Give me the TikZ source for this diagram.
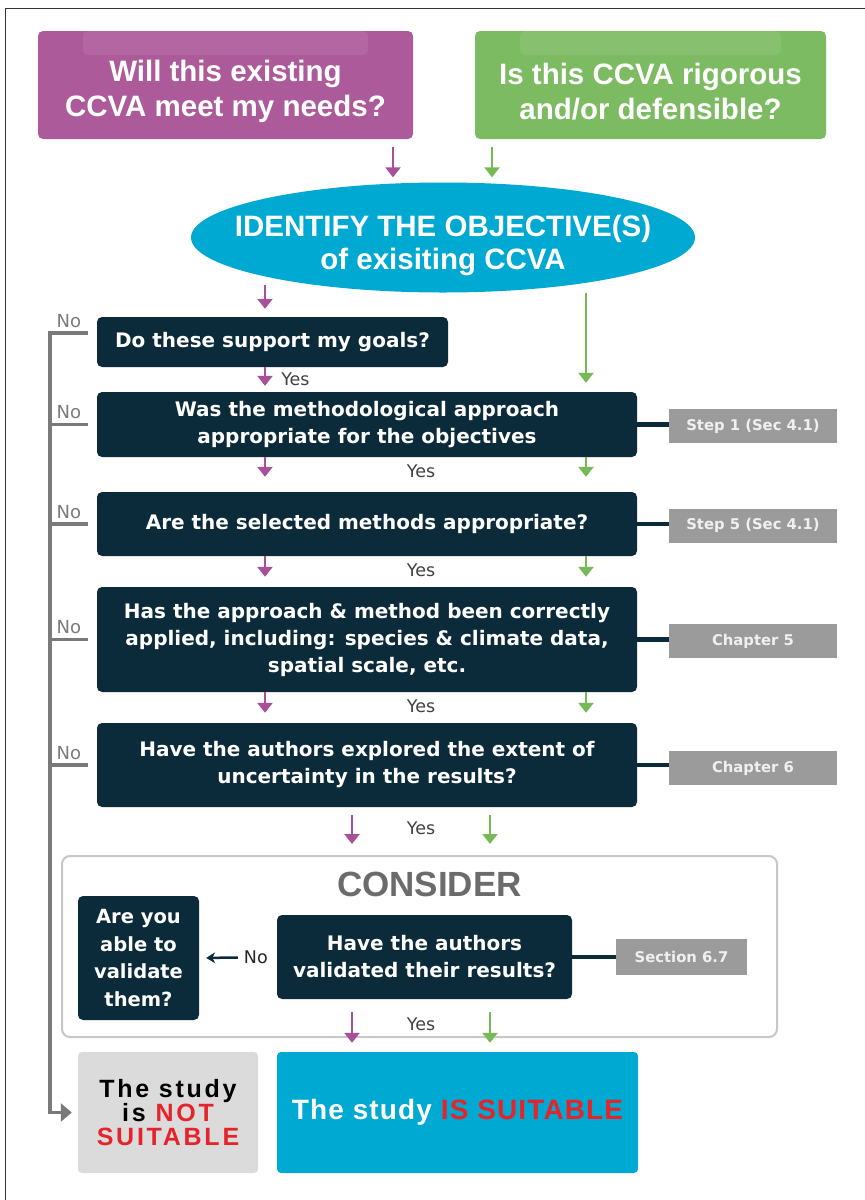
\documentclass[tikz,border=0pt]{standalone}
\usepackage{fontspec}
\setmainfont{Liberation Sans}
\newfontfamily\boxfont{DejaVu Sans}
\usetikzlibrary{arrows.meta,shapes.geometric}
\definecolor{qpurple}{HTML}{AD5A9B}
\definecolor{qgreen}{HTML}{7DBB63}
\definecolor{apurple}{HTML}{A8519A}
\definecolor{agreen}{HTML}{78B957}
\definecolor{ccva}{HTML}{00A9D1}
\definecolor{navy}{HTML}{0B2B3A}
\definecolor{refgrey}{HTML}{9B9B9B}
\definecolor{railgrey}{HTML}{7A7A7A}
\definecolor{notgrey}{HTML}{DBDBDB}
\definecolor{notred}{HTML}{E5232B}
\newcommand{\track}[1]{\addfontfeatures{LetterSpace=#1}}

\begin{document}
\begin{tikzpicture}[x=1pt,y=-1pt,
        question/.style={rounded corners=5pt, inner sep=0pt,
                path picture={\fill[white,opacity=.08] ([xshift=45pt]path picture bounding box.north west) rectangle ([xshift=-45pt,yshift=-24pt]path picture bounding box.north east);}},
        questiontxt/.style={text=white, align=center, inner sep=0pt, font=\fontsize{29.5}{35}\selectfont\bfseries},
        objective/.style={ellipse, fill=ccva, inner sep=0pt, minimum width=504pt, minimum height=110pt},
        darkbox/.style={fill=navy, rounded corners=5pt, text=white, align=center, inner sep=0pt,
                font=\boxfont\fontsize{20}{27}\selectfont\bfseries},
        refbox/.style={fill=refgrey, text=white!94!black, inner sep=0pt, minimum width=168pt,
                minimum height=34pt, font=\boxfont\fontsize{14.8}{17}\selectfont\bfseries},
        verdict/.style={rounded corners=4pt, align=center, inner sep=0pt, minimum height=121pt},
        parr/.style={apurple, line width=2.5pt, -{Triangle[width=15pt,length=10pt]}},
        garr/.style={agreen, line width=2.5pt, -{Triangle[width=15pt,length=10pt]}},
        rail/.style={railgrey, line width=3.5pt},
        nolbl/.style={text=railgrey, inner sep=4pt, font=\boxfont\fontsize{18}{20}\selectfont},
        yes/.style={text=black!75, inner sep=0pt, font=\boxfont\fontsize{17.5}{20}\selectfont},
        link/.style={navy, line width=4.5pt}]
        \tikzstyle{frame}=[black!80, line width=1.5pt]
        \useasboundingbox (0,0) rectangle (865,1200);
        \draw[frame] (865,8.5) -- (5.5,8.5) -- (5.5,1200);
        \coordinate (pt) at (393,0);
        \coordinate (gt) at (492,0);
        \coordinate (pl) at (265,0);
        \coordinate (gr) at (586,0);
        \coordinate (pl2) at (352,0);
        \coordinate (gr2) at (490,0);
        \coordinate (railx) at (50,0);
        \node[question, fill=qpurple, minimum width=375pt, minimum height=108pt] (needs) at (225.5,85) {};
        \node[questiontxt] (needstxt) at ([yshift=-6.5pt]needs.center) {Will this existing\\CCVA meet my needs?};
        \node[question, fill=qgreen, minimum width=351pt, minimum height=108pt] (rigour) at (650.5,85) {};
        \node[questiontxt] (rigourtxt) at ([yshift=-6.5pt]rigour.center) {Is this CCVA rigorous\\and/or defensible?};
        \node[objective] (ident) at (443,237.5) {};
        \node[questiontxt, font=\fontsize{29.5}{33}\selectfont\bfseries] (identtxt) at ([yshift=-7.5pt]ident.center) {IDENTIFY THE OBJECTIVE(S)\\of exisiting CCVA};
        \node[darkbox, minimum width=351pt, minimum height=50pt] (goals) at (272.5,342) {Do these support my goals?};
        \node[darkbox, minimum width=540pt, minimum height=65pt] (approach) at (367,424.5) {Was the methodological approach\\appropriate for the objectives};
        \node[darkbox, minimum width=540pt, minimum height=64pt] (methods) at (367,524) {Are the selected methods appropriate?};
        \node[darkbox, minimum width=540pt, minimum height=105pt] (applied) at (367,639.5) {Has the approach \& method been correctly\\applied, including: species \& climate data,\\spatial scale, etc.};
        \node[darkbox, minimum width=540pt, minimum height=84pt] (uncert) at (367,765) {Have the authors explored the extent of\\uncertainty in the results?};
        \node[refbox] (sec1) at (753,426) {Step 1 (Sec 4.1)};
        \node[refbox] (sec5) at (753,525.5) {Step 5 (Sec 4.1)};
        \node[refbox] (ch5) at (753,641) {Chapter 5};
        \node[refbox] (ch6) at (753,768) {Chapter 6};
        \node[draw=black!22, line width=2pt, rounded corners=8pt, minimum width=715pt, minimum height=181pt] (consider) at (419.5,946.5) {};
        \node[text=black!58, font=\fontsize{35}{38}\selectfont\bfseries] (considertitle) at (429.5,884) {CONSIDER};
        \node[darkbox, minimum width=121pt, minimum height=124pt, font=\boxfont\fontsize{19.5}{27.5}\selectfont\bfseries] (able) at (138.5,958) {Are you\\able to\\validate\\them?};
        \node[darkbox, minimum width=295pt, minimum height=84pt] (valid) at (424.5,957) {Have the authors\\validated their results?};
        \node[refbox, minimum width=131pt, minimum height=36pt] (sec67) at (681.5,957) {Section 6.7};
        \node[verdict, fill=notgrey, minimum width=180pt, text=black, font=\track{11}\fontsize{25}{24}\selectfont\bfseries] (notsuit) at (168,1112.5) {The study\\is \textcolor{notred}{NOT}\\\textcolor{notred}{SUITABLE}};
        \node[verdict, fill=ccva, minimum width=361pt, text=white, font=\track{4}\fontsize{28}{30}\selectfont\bfseries] (suit) at (457.5,1112.5) {The study \textcolor{notred}{IS SUITABLE}};
        \draw[parr, shorten <=8pt, shorten >=5pt] (needs.south -| pt) -- (ident.north -| pt);
        \draw[garr, shorten <=8pt, shorten >=5pt] (rigour.south -| gt) -- (ident.north -| gt);
        \draw[parr, shorten <=9pt, shorten >=8pt] (ident.192 -| pl) -- (goals.north -| pl);
        \draw[garr, shorten <=11pt, shorten >=9pt] (ident.343 -| gr) -- (approach.north -| gr);
        \draw[parr, shorten >=6pt] (goals.south -| pl) -- node[yes, right, xshift=15pt] (yes1) {Yes} (approach.north -| pl);
        \foreach \a/\b/\s in {approach/methods/15, methods/applied/10, applied/uncert/10} {
                \draw[parr, shorten >=\s pt] (\a.south -| pl) -- (\b.north -| pl);
                \draw[garr, shorten >=\s pt] (\a.south -| gr) -- (\b.north -| gr);
        }
        \node[yes] (yes2) at (421,471) {Yes};
        \node[yes] (yes3) at (421,570) {Yes};
        \node[yes] (yes4) at (421,706) {Yes};
        \draw[parr, shorten <=8pt, shorten >=11pt] (uncert.south -| pl2) -- (consider.north -| pl2);
        \draw[garr, shorten <=8pt, shorten >=11pt] (uncert.south -| gr2) -- (consider.north -| gr2);
        \node[yes] (yes5) at (421,828) {Yes};
        \draw[parr, shorten <=13pt, shorten >=9pt] (valid.south -| pl2) -- (suit.north -| pl2);
        \draw[garr, shorten <=13pt, shorten >=9pt] (valid.south -| gr2) -- (suit.north -| gr2);
        \node[yes] (yes6) at (421,1024) {Yes};
        \draw[navy, line width=2.5pt, -{Stealth[width=11pt,length=9pt]}, shorten <=39pt, shorten >=7pt] (valid.west) -- node[pos=.27, text=black!85, font=\boxfont\fontsize{17.5}{20}\selectfont] (no6) {No} (able.east);
        \foreach \b/\s in {approach/sec1, methods/sec5, applied/ch5, uncert/ch6, valid/sec67}
                \draw[link] (\b.east) -- (\b.east -| \s.west);
        \coordinate (tick1) at ([xshift=-9pt,yshift=9pt]goals.west);
        \draw[rail, -{Triangle[width=18pt,length=11pt]}] (tick1) -- node[nolbl, above] (no1) {No} (railx |- tick1) -- (railx |- notsuit.west) -- ([xshift=-6pt]notsuit.west);
        \foreach \b/\n in {approach/2, methods/3, applied/4, uncert/5}
                \draw[rail] ([xshift=-9pt]\b.west) -- node[nolbl, above] (no\n) {No} (railx |- \b.west);
\end{tikzpicture}
\end{document}
